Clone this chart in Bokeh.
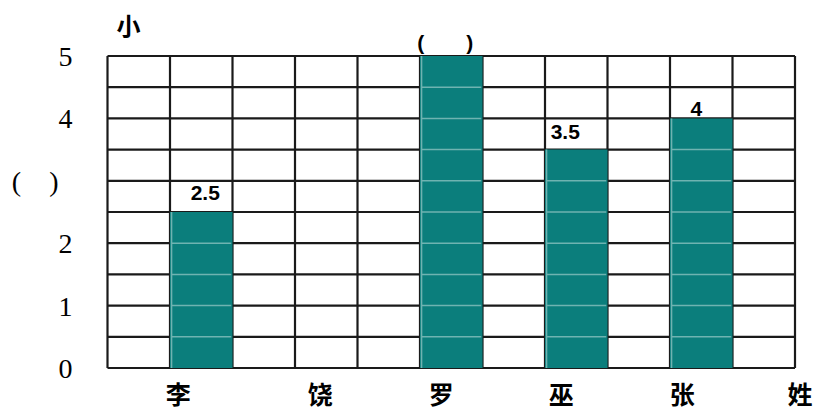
from bokeh.plotting import figure
from bokeh.core.properties import value
from bokeh.embed import file_html
from bokeh.resources import INLINE

# ---- data ----
names = ["李", "饶", "罗", "巫", "张"]
values = [2.5, 0, 5, 3.5, 4]
bar_labels = ["2.5", "", "(\u2002\u2002\u2002\u2002)", "3.5", "4"]
y_ticks = [0, 1, 2, 3, 4, 5]
y_tick_labels = ["0", "1", "2", "(\u2002\u2002)\u2002", "4", "5"]
x_title = "姓"
y_title = "小"

# ---- layout ----
n_cols = 11
row_step = 0.5
y_top = 5
bar_cols = [1, 3, 5, 7, 9]
name_dx = [-23, -6, -10, -15, -19]       # px shift of name labels
label_dx = [4, 0, -6, -11, -5]            # px shift of bar value labels
label_dy = [-19, 0, -13, -18, -9]         # px shift (up negative)
TEAL = "#0b7e7c"
LIGHT = "#6fb3b1"

W, H = 814, 412
p = figure(width=W, height=H, output_backend="svg", toolbar_location=None,
           x_range=(-1.712, 11.312), y_range=(-0.713, 5.889),
           min_border=0, min_border_left=0, min_border_right=0,
           min_border_top=0, min_border_bottom=0)
p.axis.visible = False
p.grid.visible = False
p.outline_line_color = None
p.background_fill_color = "white"
p.border_fill_color = "white"

# grid lines
vx = list(range(n_cols + 1))
p.segment(x0=vx, y0=[0] * len(vx), x1=vx, y1=[y_top] * len(vx),
          line_color="#1a1a1a", line_width=2.2)
n_rows = int(y_top / row_step)
hy = [i * row_step for i in range(n_rows + 1)]
p.segment(x0=[0] * len(hy), y0=hy, x1=[n_cols] * len(hy), y1=hy,
          line_color="#1a1a1a", line_width=2.2)

# bars
lefts = bar_cols
rights = [c + 1 for c in bar_cols]
p.quad(left=lefts, right=rights, bottom=[0] * len(values), top=values,
       fill_color=TEAL, line_color=None)

# faint inner row lines and side edges in bars
sx0, sx1, sy0, sy1 = [], [], [], []
for c, v in zip(bar_cols, values):
    if v <= 0:
        continue
    k = 1
    while k * row_step < v - 1e-9:
        sx0.append(c + 0.02)
        sx1.append(c + 0.98)
        sy0.append(k * row_step)
        sy1.append(k * row_step)
        k += 1
    sx0.append(c + 0.025)
    sx1.append(c + 0.025)
    sy0.append(0)
    sy1.append(v)
p.segment(x0=sx0, y0=sy0, x1=sx1, y1=sy1, line_color=LIGHT, line_width=1.5)

# bar value labels
p.text(x=[c + 0.5 for c in bar_cols], y=values, text=bar_labels,
       x_offset=label_dx, y_offset=label_dy,
       text_font=value("Liberation Sans"), text_font_style="bold",
       text_font_size="21px", text_align="center", text_baseline="middle",
       text_color="black")

# y tick labels
p.text(x=[0] * len(y_ticks), y=y_ticks, text=y_tick_labels,
       x_offset=-35, y_offset=1,
       text_font=value("Liberation Serif"), text_font_size="28px",
       text_align="right", text_baseline="middle", text_color="black")

# y title
p.text(x=[0], y=[y_top], text=[y_title], x_offset=21, y_offset=-31,
       text_font=value("Noto Sans CJK SC"), text_font_style="bold",
       text_font_size="24px", text_align="center", text_baseline="middle",
       text_color="black")

# category names
p.text(x=[c + 0.5 for c in bar_cols], y=[0] * len(names), text=names,
       x_offset=name_dx, y_offset=25,
       text_font=value("Noto Sans CJK SC"), text_font_style="bold",
       text_font_size="25px", text_align="center", text_baseline="middle",
       text_color="black")

# x title
p.text(x=[n_cols], y=[0], text=[x_title], x_offset=5, y_offset=25,
       text_font=value("Noto Sans CJK SC"), text_font_style="bold",
       text_font_size="25px", text_align="center", text_baseline="middle",
       text_color="black")

open("out.html", "w").write(file_html(p, INLINE))
